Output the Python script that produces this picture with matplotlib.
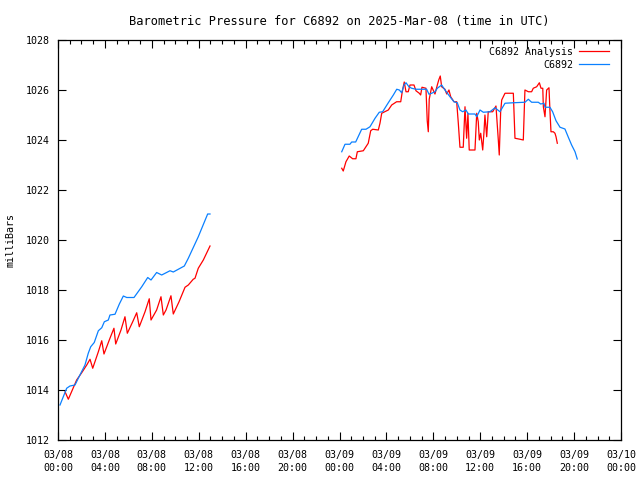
import matplotlib
matplotlib.use('Agg')
import matplotlib.pyplot as plt
from matplotlib.ticker import MultipleLocator

# hours since 2025-03-08 00:00 UTC, pressure in millibars
obs_hours_1 = [0.17, 0.74, 1.02, 1.45, 1.73, 2.30, 2.58, 2.79, 3.09, 3.44, 3.73, 3.95,
               4.29, 4.43, 4.86, 5.23, 5.57, 5.86, 6.48, 7.14, 7.65, 7.93, 8.41, 8.84,
               9.55, 9.83, 10.77, 11.11, 11.96, 12.76, 12.96]
obs_mb_1 = [1013.4, 1014.07, 1014.16, 1014.2, 1014.47, 1015.0, 1015.47, 1015.73, 1015.9,
            1016.37, 1016.49, 1016.73, 1016.8, 1017.0, 1017.03, 1017.44, 1017.76, 1017.7,
            1017.7, 1018.13, 1018.5, 1018.4, 1018.7, 1018.6, 1018.77, 1018.72, 1018.96,
            1019.27, 1020.13, 1021.04, 1021.04]

obs_hours_2 = [24.19, 24.47, 24.89, 25.04, 25.38, 25.89, 26.26, 26.60, 27.03, 27.39,
               27.68, 28.16, 28.59, 28.88, 29.10, 29.30, 29.50, 29.67, 29.92, 30.15,
               30.52, 31.43, 31.63, 31.86, 32.14, 32.34, 32.71, 32.99, 33.42, 33.76,
               34.04, 34.27, 34.50, 34.78, 34.98, 35.55, 35.70, 35.98, 36.26, 36.83,
               37.26, 37.68, 38.11, 38.82, 39.81, 40.10, 40.38, 40.95, 41.15, 41.43,
               41.52, 41.94, 42.17, 42.46, 42.80, 43.22, 43.51, 43.79, 44.08, 44.27]
obs_mb_2 = [1023.53, 1023.83, 1023.83, 1023.92, 1023.92, 1024.43, 1024.43, 1024.53, 1024.87, 1025.11,
            1025.13, 1025.49, 1025.8, 1026.03, 1026.0, 1025.89, 1026.2, 1026.29, 1026.13, 1026.07,
            1026.03, 1026.03, 1025.83, 1025.87, 1025.93, 1026.07, 1026.2, 1026.0, 1025.73, 1025.53,
            1025.49, 1025.2, 1025.13, 1025.2, 1025.04, 1025.04, 1024.93, 1025.2, 1025.11, 1025.13,
            1025.29, 1025.13, 1025.47, 1025.49, 1025.51, 1025.63, 1025.51, 1025.51, 1025.44, 1025.47,
            1025.31, 1025.31, 1025.13, 1024.77, 1024.51, 1024.44, 1024.11, 1023.8, 1023.53, 1023.24]

ana_hours_1 = [0.60, 0.88, 1.59, 2.02, 2.45, 2.73, 2.96, 3.44, 3.73, 3.92, 4.43, 4.77,
               4.92, 5.37, 5.71, 5.91, 6.37, 6.71, 6.93, 7.42, 7.78, 7.93, 8.41, 8.78,
               8.98, 9.21, 9.63, 9.83, 10.32, 10.83, 11.11, 11.53, 11.68, 11.96, 12.39, 12.96]
ana_mb_1 = [1013.93, 1013.63, 1014.4, 1014.69, 1015.0, 1015.23, 1014.87, 1015.53, 1015.97,
            1015.44, 1016.07, 1016.47, 1015.84, 1016.4, 1016.93, 1016.27, 1016.73, 1017.09,
            1016.53, 1017.13, 1017.65, 1016.8, 1017.2, 1017.73, 1017.0, 1017.2, 1017.77,
            1017.04, 1017.53, 1018.11, 1018.2, 1018.43, 1018.47, 1018.87, 1019.2, 1019.76]

ana_hours_2 = [24.19, 24.32, 24.55, 24.83, 25.12, 25.40, 25.52, 26.03, 26.45, 26.66,
               26.83, 27.31, 27.45, 27.60, 28.16, 28.45, 28.87, 29.22, 29.35, 29.52,
               29.67, 29.86, 30.01, 30.35, 30.52, 30.80, 30.92, 31.03, 31.37, 31.48,
               31.57, 31.65, 31.86, 32.14, 32.34, 32.46, 32.59, 32.71, 32.99, 33.14,
               33.33, 33.48, 33.76, 33.99, 34.13, 34.27, 34.55, 34.70, 34.84, 34.95,
               35.06, 35.55, 35.70, 35.83, 35.92, 36.04, 36.21, 36.32, 36.40, 36.55,
               36.68, 37.06, 37.34, 37.54, 37.62, 37.74, 37.83, 38.11, 38.82, 38.96,
               39.39, 39.67, 39.81, 40.10, 40.38, 40.52, 40.81, 41.04, 41.18, 41.33,
               41.38, 41.52, 41.66, 41.86, 41.94, 42.03, 42.23, 42.37, 42.46, 42.57]
ana_mb_2 = [1022.87, 1022.76, 1023.13, 1023.36, 1023.25, 1023.25, 1023.53, 1023.57, 1023.87, 1024.37,
            1024.43, 1024.4, 1024.67, 1025.07, 1025.2, 1025.4, 1025.53, 1025.53, 1025.93, 1026.32,
            1025.93, 1025.93, 1026.2, 1026.2, 1025.97, 1025.87, 1025.8, 1026.11, 1026.07, 1024.77,
            1024.33, 1025.63, 1026.13, 1025.84, 1026.2, 1026.4, 1026.56, 1026.13, 1026.03, 1025.84,
            1026.0, 1025.73, 1025.53, 1025.53, 1024.67, 1023.71, 1023.71, 1025.33, 1024.07, 1025.07,
            1023.6, 1023.6, 1025.07, 1024.73, 1024.0, 1024.27, 1023.6, 1024.33, 1025.0, 1024.13,
            1025.13, 1025.13, 1025.36, 1024.0, 1023.4, 1025.13, 1025.6, 1025.87, 1025.87, 1024.07,
            1024.03, 1024.0, 1026.0, 1025.93, 1025.93, 1026.07, 1026.13, 1026.29, 1026.07, 1026.07,
            1025.33, 1024.93, 1026.0, 1026.09, 1025.2, 1024.33, 1024.33, 1024.27, 1024.13, 1023.87]

tick_hours = list(range(0, 49, 4))
tick_labels = ['03/08\n00:00', '03/08\n04:00', '03/08\n08:00', '03/08\n12:00',
               '03/08\n16:00', '03/08\n20:00', '03/09\n00:00', '03/09\n04:00',
               '03/09\n08:00', '03/09\n12:00', '03/09\n16:00', '03/09\n20:00',
               '03/10\n00:00']

plt.rcParams['font.family'] = 'DejaVu Sans Mono'
plt.rcParams['font.size'] = 7.2

fig = plt.figure(figsize=(6.4, 4.8), dpi=100)
ax = fig.add_axes([58 / 640, 40 / 480, 563 / 640, 400 / 480])

red = '#ff0000'
blue = '#0a80ff'
lw = 0.9

ax.plot(ana_hours_1, ana_mb_1, color=red, lw=lw, label='C6892 Analysis')
ax.plot(ana_hours_2, ana_mb_2, color=red, lw=lw)
ax.plot(obs_hours_1, obs_mb_1, color=blue, lw=lw, label='C6892')
ax.plot(obs_hours_2, obs_mb_2, color=blue, lw=lw)

ax.set_xlim(0, 48)
ax.set_ylim(1012, 1028)
ax.set_xticks(tick_hours)
ax.set_xticklabels(tick_labels, linespacing=1.45)
ax.xaxis.set_minor_locator(MultipleLocator(1))
ax.yaxis.set_major_locator(MultipleLocator(2))
ax.tick_params(which='both', direction='in', top=True, right=True, width=0.8)
ax.tick_params(which='major', length=6)
ax.tick_params(which='minor', length=3)
ax.tick_params(axis='x', pad=7)
ax.tick_params(axis='y', pad=6)
for s in ax.spines.values():
    s.set_linewidth(0.9)

ax.set_title('Barometric Pressure for C6892 on 2025-Mar-08 (time in UTC)', pad=11)
ax.set_ylabel('milliBars', labelpad=7)

ax.legend(loc='upper right', bbox_to_anchor=(1 - 5 / 563, 1), frameon=False,
          markerfirst=False, handlelength=3.0, borderaxespad=0.3,
          labelspacing=0.3, handletextpad=0.6)

fig.savefig('out.png', dpi=100)
